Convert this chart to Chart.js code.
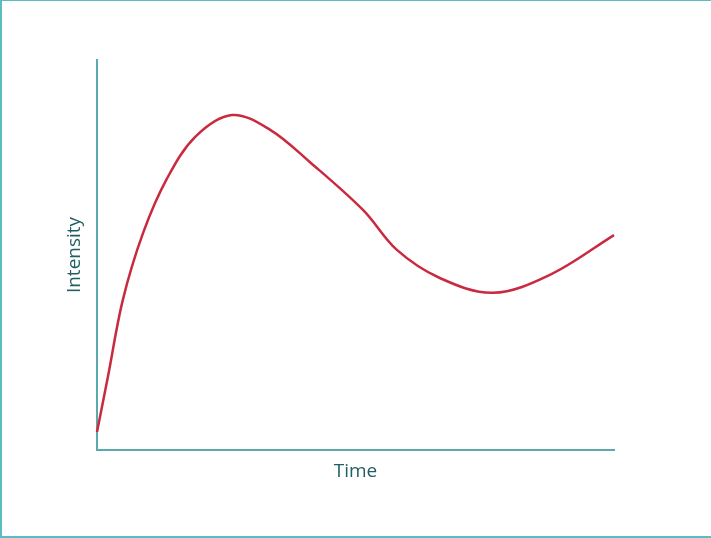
<!doctype html>
<html lang="en">
<head>
    <meta charset="utf-8">
    <title>Intensity over time</title>
    <script src="https://cdn.jsdelivr.net/npm/chart.js"></script>
    <style>
        html, body { margin: 0; padding: 0; background: #fff; overflow: hidden; }
        #wrap { position: absolute; left: 0; top: 0; width: 711px; height: 538px; }
        #frame {
            position: absolute; left: 0; top: 0; width: 711px; height: 538px;
            box-sizing: border-box;
            border-top: 1px solid #5bbcc2;
            border-left: 2px solid #5bbcc2;
            border-bottom: 2px solid #5bbcc2;
            pointer-events: none;
        }
    </style>
</head>
<body>
<div id="wrap"><canvas id="myChart"></canvas></div>
<div id="frame"></div>
<script>
    // curve (time and intensity in arbitrary 0-100 units)
    var time = [0, 2.1, 5.0, 8.9, 13.5, 19.0, 26.1, 33.5, 41.2, 51.5, 58.0, 66.3, 76.6, 87.6, 100];
    var intensity = [4.6, 18.7, 38.5, 55.6, 69.5, 80.3, 85.9, 82.1, 73.8, 61.5, 51.3, 44.1, 40.3, 44.9, 55.1];

    var points = time.map(function (t, i) {
        return {x: t, y: intensity[i]};
    });

    var axisColor = "#5aa9ad";
    var textColor = "#1f5e63";
    var titleFont = {family: "'Open Sans', sans-serif", size: 19};

    var ctx = document.getElementById("myChart").getContext('2d');

    var myChart = new Chart(ctx, {
        type: 'line',
        data: {
            datasets: [{
                label: 'Intensity',
                data: points,
                borderColor: "#c92a3e",
                borderWidth: 2.5,
                pointRadius: 0,
                tension: 0.35,
                fill: false,
                clip: false
            }]
        },
        options: {
            responsive: true,
            maintainAspectRatio: false,
            animation: false,
            layout: {padding: {top: 60, right: 97, left: 0, bottom: 0}},
            plugins: {legend: {display: false}, tooltip: {enabled: false}},
            scales: {
                x: {
                    type: 'linear',
                    min: 0,
                    max: 100,
                    grid: {display: false},
                    ticks: {display: false},
                    border: {color: axisColor, width: 2},
                    title: {display: true, text: 'Time', color: textColor, font: titleFont, padding: {top: 0, bottom: 55}},
                    afterFit: function (s) { s.height = 88; }
                },
                y: {
                    min: 0,
                    max: 100,
                    grid: {display: false},
                    ticks: {display: false},
                    border: {color: axisColor, width: 2},
                    title: {display: true, text: 'Intensity', color: textColor, font: titleFont, padding: {top: 63, bottom: 0}},
                    afterFit: function (s) { s.width = 97; }
                }
            }
        }
    });
</script>
</body>
</html>
